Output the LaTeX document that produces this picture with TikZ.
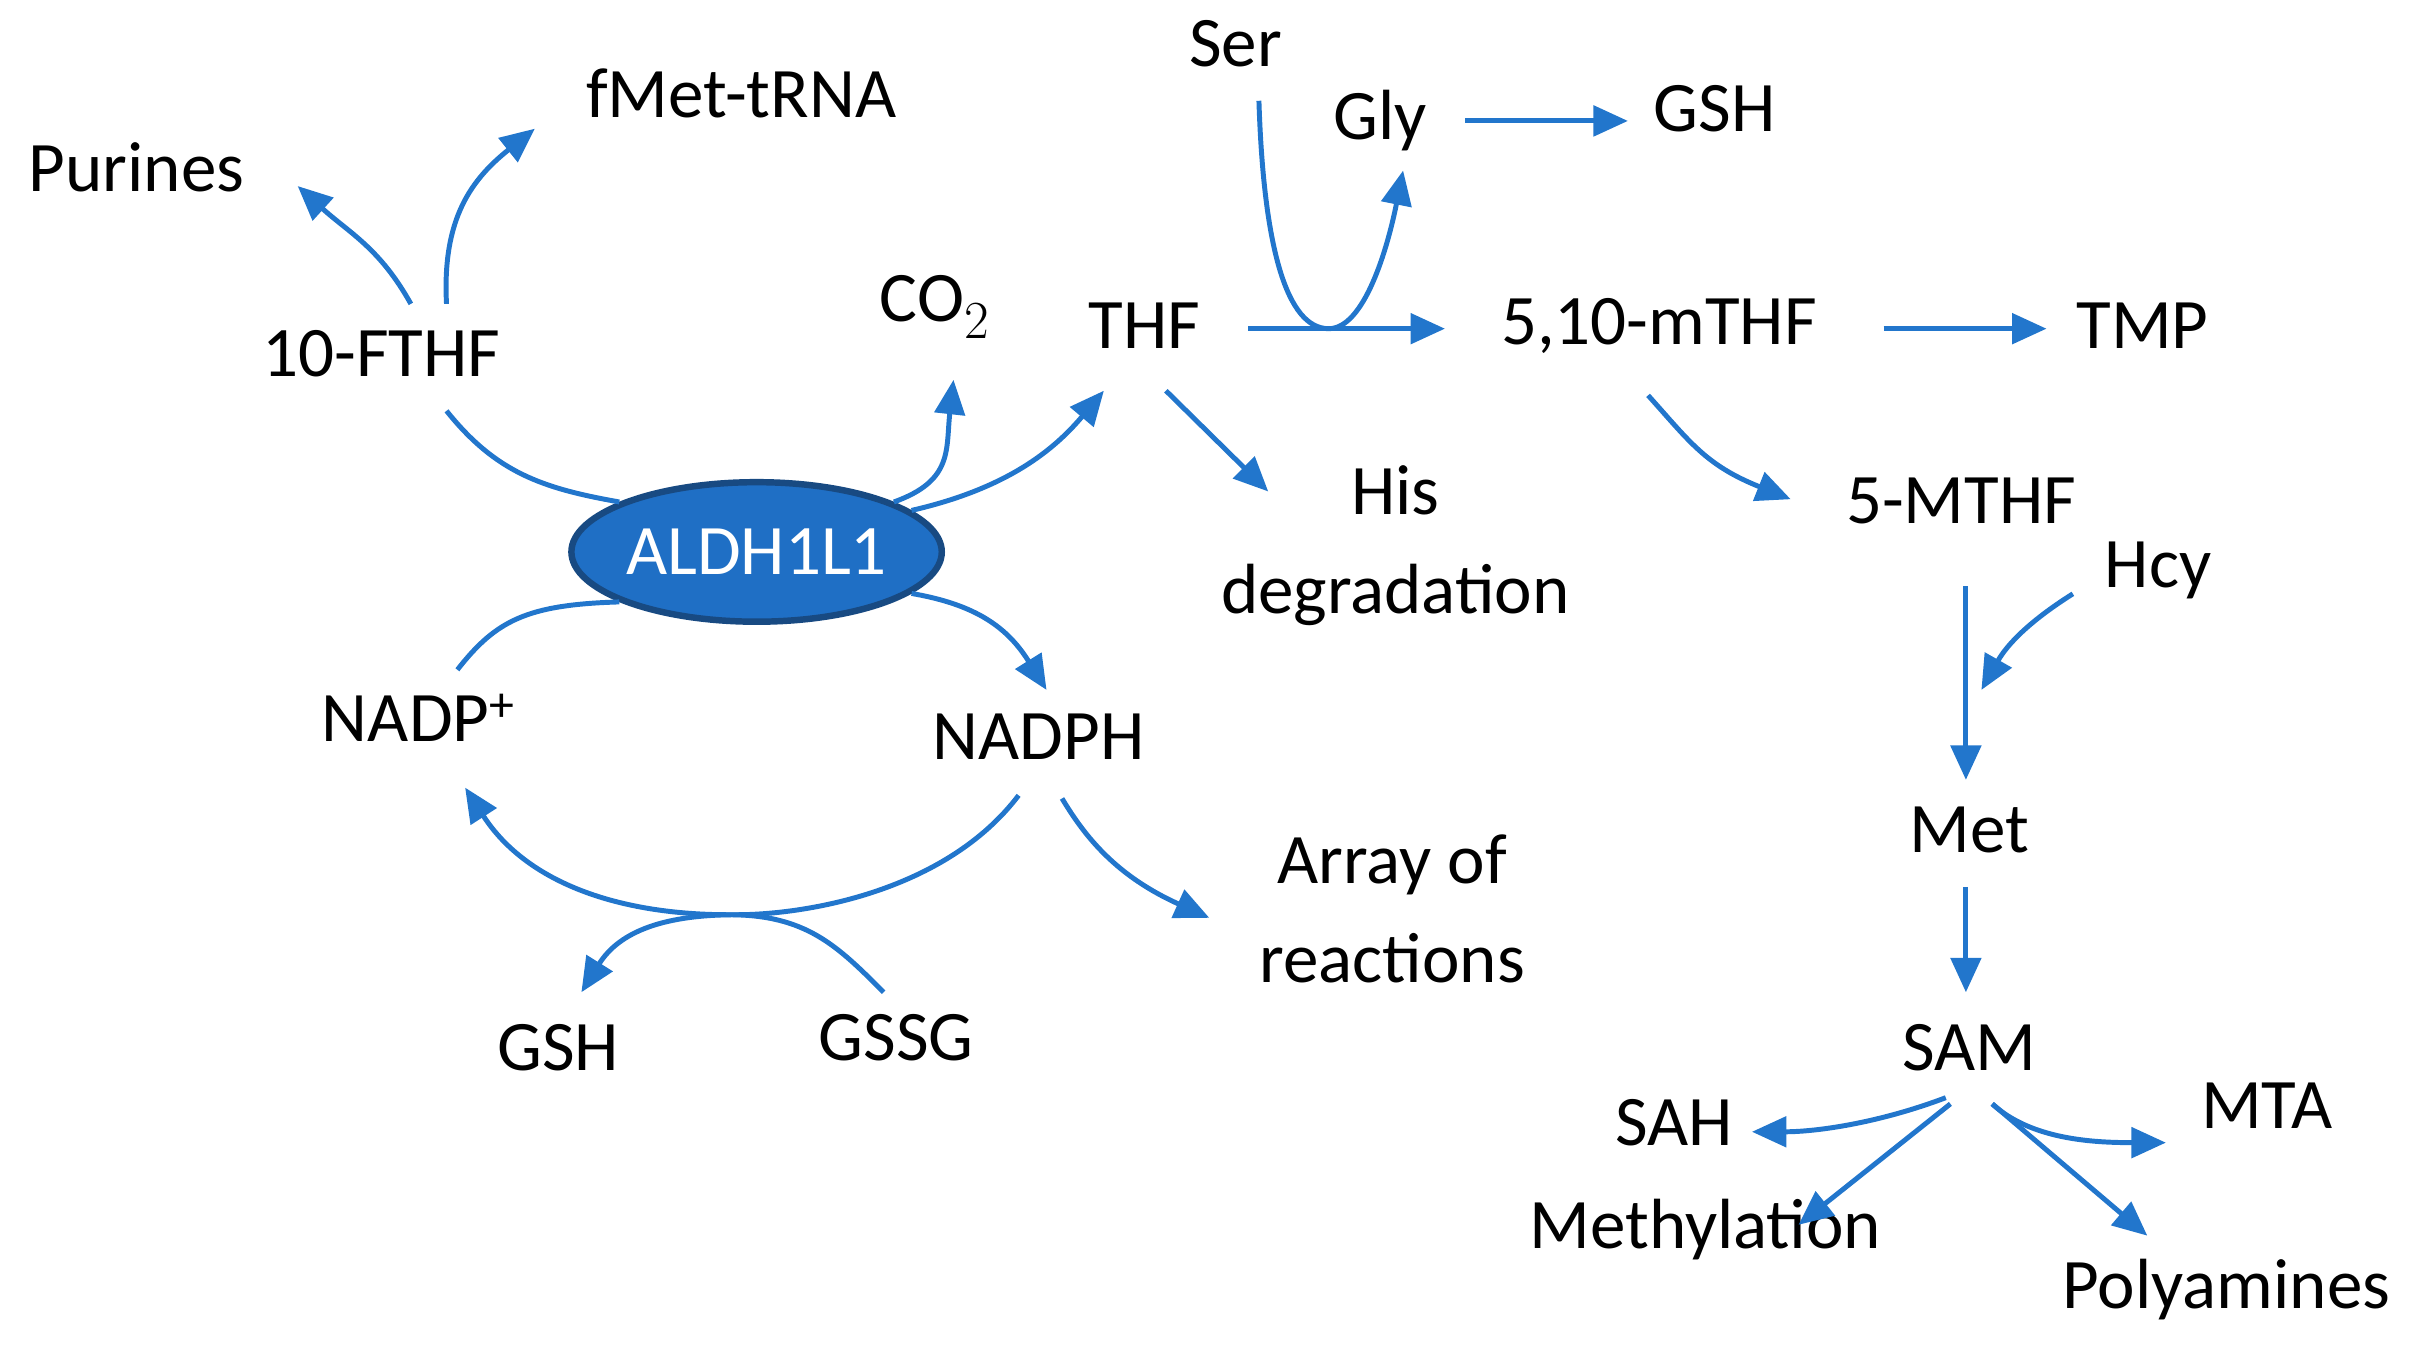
\documentclass[tikz,border=0pt]{standalone}
\usepackage{fontspec}
\setmainfont{Carlito}
\usetikzlibrary{arrows.meta,shapes.geometric}
\definecolor{ab}{RGB}{34,118,204}
\definecolor{ef}{RGB}{31,111,197}
\definecolor{eb}{RGB}{24,74,130}
\begin{document}
\begin{tikzpicture}[x=0.72pt,y=-0.72pt,
 t/.style={font=\fontsize{33}{40}\selectfont,inner sep=0pt,align=center},
 a/.style={draw=ab,line width=2.3pt,-{Triangle[length=16pt,width=14pt]}},
 l/.style={draw=ab,line width=2.3pt}]
\useasboundingbox (0,0) rectangle (1568,870);
\node[t] (pur) at (88,108) {Purines};
\node[t] (fmet) at (478,60) {fMet-tRNA};
\node[t] (ff) at (246,228) {10-FTHF};
\node[t] (co2) at (603,198) {CO$_2$};
\node[t] (thf) at (738,210) {THF};
\node[t] (ser) at (797,28) {Ser};
\node[t] (gly) at (890,78) {Gly};
\node[t] (gsh1) at (1106,70) {GSH};
\node[t] (m10) at (1070,210) {5,10-mTHF};
\node[t] (tmp) at (1382,210) {TMP};
\node[t] (his) at (900,352) {His\\[6pt]degradation};
\node[t] (m5) at (1265,323) {5-MTHF};
\node[t] (hcy) at (1392,368) {Hcy};
\node[t] (met) at (1270,535) {Met};
\node[t] (sam) at (1270,676) {SAM};
\node[t] (sah) at (1080,724) {SAH};
\node[t] (mta) at (1462,713) {MTA};
\node[t] (mth) at (1100,793) {Methylation};
\node[t] (poly) at (1436,832) {Polyamines};
\node[t] (nadp) at (270,463) {NADP\textsuperscript{+}};
\node[t] (nadph) at (670,475) {NADPH};
\node[t] (arr) at (898,586) {Array of\\[6pt]reactions};
\node[t] (gsh2) at (360,676) {GSH};
\node[t] (gssg) at (578,669) {GSSG};
\node[ellipse,draw=eb,line width=3pt,fill=ef,minimum width=172pt,minimum height=64.8pt,text=white,font=\fontsize{33}{40}\selectfont,inner sep=0pt] (al) at (488,356) {ALDH1L1};
\coordinate (c1) at (265,196); \coordinate (c2) at (288,196); \coordinate (c3) at (288,265);
\draw[a] (c1) .. controls (245,160) and (225,150) .. (192,120);
\draw[a] (c2) .. controls (285,140) and (305,115) .. (345,83);
\draw[l] (c3) .. controls (320,305) and (350,315) .. (al.160);
\draw[a] (al.20) .. controls (615,310) and (610,290) .. (615,245);
\draw[a] (al.15) .. controls (650,315) and (680,290) .. (712,252);
\draw[l] (295,432) .. controls (320,400) and (340,390) .. (al.200);
\draw[a] (al.-15) .. controls (630,390) and (650,405) .. (675,445);
\draw[a] (752,252) -- (818,317);
\draw[a] (805,212) -- (932,212);
\draw[a] (812,65) .. controls (815,160) and (830,212) .. (857,212) .. controls (880,212) and (895,160) .. (905,110);
\draw[a] (945,78) -- (1050,78);
\draw[a] (1215,212) -- (1320,212);
\draw[a] (1063,255) .. controls (1090,285) and (1100,300) .. (1155,322);
\draw[a] (1268,378) -- (1268,503);
\draw[a] (1337,383) .. controls (1310,400) and (1295,415) .. (1278,445);
\draw[a] (1268,572) -- (1268,640);
\draw[a] (1255,708) .. controls (1210,725) and (1170,730) .. (1130,730);
\draw[a] (1258,712) -- (1160,790);
\draw[a] (1285,712) .. controls (1310,735) and (1350,737) .. (1397,737);
\draw[a] (1285,712) -- (1385,797);
\draw[a] (685,515) .. controls (700,540) and (720,565) .. (780,592);
\draw[a] (657,513) .. controls (610,575) and (520,590) .. (475,590) .. controls (430,590) and (400,600) .. (375,640);
\draw[a] (570,640) .. controls (540,610) and (520,590) .. (470,590) .. controls (400,590) and (340,570) .. (300,508);
\end{tikzpicture}
\end{document}
